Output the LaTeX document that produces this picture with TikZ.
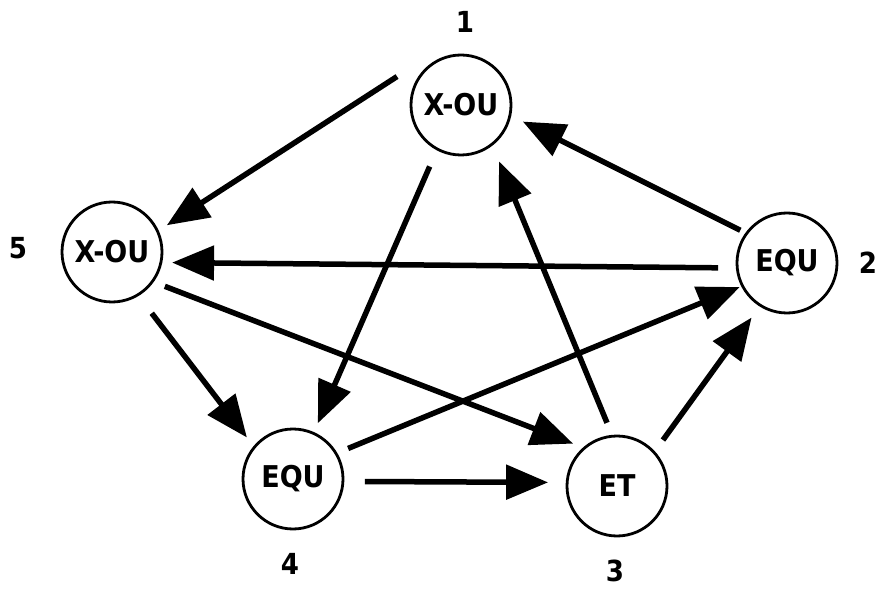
\documentclass[tikz,border=0pt]{standalone}
\usepackage{fontspec}
\setmainfont{DejaVu Sans}[FakeStretch=0.9]
\usetikzlibrary{arrows.meta}
\begin{document}
\begin{tikzpicture}[x=1pt,y=1pt,
  gate/.style={circle, draw, line width=2.8pt, minimum size=100pt, inner sep=0pt,
    font=\bfseries\fontsize{30}{30}\selectfont},
  num/.style={font=\bfseries\fontsize{29}{29}\selectfont, inner sep=0pt},
  arr/.style={line width=5.5pt, -{Triangle[length=42pt,width=34pt]}}]
\fill[white] (0,0) rectangle (884,590);
\useasboundingbox (0,0) rectangle (884,590);
\node[gate] (n1) at (461,485) {X-OU};
\node[gate] (n2) at (787,327) {EQU};
\node[gate] (n3) at (617,104) {ET};
\node[gate] (n4) at (293,111) {EQU};
\node[gate] (n5) at (112,338) {X-OU};
\node[num] (l1) at (465,568) {1};
\node[num] (l2) at (868,327) {2};
\node[num] (l3) at (615,19) {3};
\node[num] (l4) at (290,26) {4};
\node[num] (l5) at (18,342) {5};
% arrows
\draw[arr] ([shift={(156:70)}]n1.center) -- ([shift={(26:61)}]n5.center);
\draw[arr] ([shift={(184:69)}]n2.center) -- ([shift={(-10:61)}]n5.center);
\draw[arr] ([shift={(145:57)}]n2.center) -- ([shift={(-15:64)}]n1.center);
\draw[arr] ([shift={(243:69)}]n1.center) -- ([shift={(66:61)}]n4.center);
\draw[arr] ([shift={(-57:73)}]n5.center) -- ([shift={(138:62)}]n4.center);
\draw[arr] ([shift={(-33:63)}]n5.center) -- ([shift={(136:61)}]n3.center);
\draw[arr] ([shift={(29:63)}]n4.center) -- ([shift={(207:53)}]n2.center);
\draw[arr] ([shift={(-2:72)}]n4.center) -- ([shift={(177:69)}]n3.center);
\draw[arr] ([shift={(99:64)}]n3.center) -- ([shift={(-56:68)}]n1.center);
\draw[arr] ([shift={(45:65)}]n3.center) -- ([shift={(237:65)}]n2.center);
\end{tikzpicture}
\end{document}
